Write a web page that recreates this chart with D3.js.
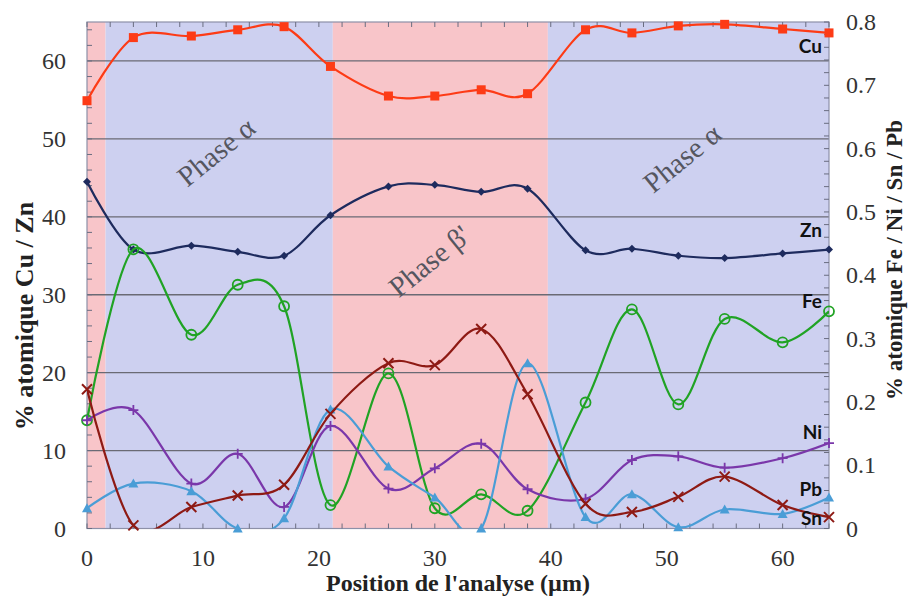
<!DOCTYPE html>
<html>
<head>
<meta charset="utf-8">
<script src="https://cdn.jsdelivr.net/npm/d3@7"></script>
<style>
  html, body { margin: 0; padding: 0; background: #ffffff; }
  svg { display: block; }
  .serif { font-family: "Liberation Serif", "Times New Roman", Times, serif; }
  .sans { font-family: Lato, "Liberation Sans", Arial, sans-serif; }
</style>
</head>
<body>
<svg id="chart" width="909" height="598"></svg>
<script>
// ---------------- DATA ----------------
const positions = [0, 4, 9, 13, 17, 21, 26, 30, 34, 38, 43, 47, 51, 55, 60, 64];

// left axis (% atomique Cu / Zn)
const cuValues = [54.9, 63.0, 63.2, 64.0, 64.4, 59.3, 55.5, 55.5, 56.3, 55.8, 64.0, 63.6, 64.5, 64.7, 64.1, 63.6];
const znValues = [44.5, 35.8, 36.3, 35.5, 35.0, 40.2, 43.9, 44.1, 43.2, 43.6, 35.7, 35.9, 35.0, 34.7, 35.3, 35.8];

// right axis (% atomique Fe / Ni / Sn / Pb)
const feValues = [0.171, 0.441, 0.306, 0.385, 0.351, 0.037, 0.245, 0.032, 0.054, 0.028, 0.199, 0.346, 0.196, 0.331, 0.294, 0.343];
const niValues = [0.171, 0.187, 0.071, 0.118, 0.034, 0.162, 0.063, 0.095, 0.134, 0.062, 0.047, 0.108, 0.114, 0.096, 0.111, 0.135];
const pbValues = [0.032, 0.071, 0.059, 0.000, 0.016, 0.188, 0.098, 0.049, 0.000, 0.261, 0.018, 0.054, 0.002, 0.030, 0.023, 0.049];
const snValues = [0.220, 0.005, 0.034, 0.052, 0.069, 0.181, 0.261, 0.258, 0.315, 0.212, 0.039, 0.026, 0.050, 0.082, 0.037, 0.018];

// phase bands [start, end, phase]
const bandStarts = [0, 1.6, 21.2, 39.75];
const bandEnds   = [1.6, 21.2, 39.75, 64];
const bandPhases = ["beta", "alpha", "beta", "alpha"];

// phase annotations
const phaseLabels = ["Phase α", "Phase β'", "Phase α"];
const phaseLabelX = [11.3, 29.7, 51.5];
const phaseLabelY = [48.0, 34.0, 47.2];

const xTicks = [0, 10, 20, 30, 40, 50, 60];
const yLeftTicks = [0, 10, 20, 30, 40, 50, 60];
const yRightTicks = [0, 0.1, 0.2, 0.3, 0.4, 0.5, 0.6, 0.7, 0.8];

const seriesNames = ["Cu", "Zn", "Fe", "Ni", "Pb", "Sn"];
const labelY = [48, 232, 303, 434, 491, 520];

// ---------------- LAYOUT ----------------
const svg = d3.select("#chart");
const M = { left: 87, right: 829, top: 22, bottom: 528.5 };

const x = d3.scaleLinear().domain([0, 64]).range([M.left, M.right]);
const yL = d3.scaleLinear().domain([0, 65]).range([M.bottom, M.top]);
const yR = d3.scaleLinear().domain([0, 0.8]).range([M.bottom, M.top]);

const bandColor = { alpha: "#cdd0f0", beta: "#f8c5c9" };

// bands
svg.append("g").selectAll("rect").data(bandStarts).join("rect")
  .attr("x", (d, i) => x(d))
  .attr("y", M.top)
  .attr("width", (d, i) => x(bandEnds[i]) - x(d))
  .attr("height", M.bottom - M.top)
  .attr("fill", (d, i) => bandColor[bandPhases[i]]);

// gridlines
svg.append("g").selectAll("line").data(yLeftTicks.filter(v => v > 0)).join("line")
  .attr("x1", M.left).attr("x2", M.right)
  .attr("y1", d => yL(d)).attr("y2", d => yL(d))
  .attr("stroke", "#6a6a74").attr("stroke-width", 1.3);

// phase labels
svg.append("g").selectAll("text").data(phaseLabels).join("text")
  .attr("class", "serif")
  .attr("transform", (d, i) => `translate(${x(phaseLabelX[i])},${yL(phaseLabelY[i])}) rotate(-39)`)
  .attr("text-anchor", "middle")
  .attr("dominant-baseline", "middle")
  .attr("font-size", 29)
  .attr("fill", "#55565f")
  .text(d => d);

// frame
svg.append("rect")
  .attr("x", M.left).attr("y", M.top)
  .attr("width", M.right - M.left).attr("height", M.bottom - M.top)
  .attr("fill", "none").attr("stroke", "#8d90a8").attr("stroke-width", 1.2);

// minor ticks (inward)
const tickColor = "#6a6d80";
const xMinor = d3.range(0, 64.01, 2);
const tickG = svg.append("g").attr("stroke", tickColor).attr("stroke-width", 1);
tickG.selectAll("line.b").data(xMinor).join("line").attr("class", "b")
  .attr("x1", d => x(d)).attr("x2", d => x(d))
  .attr("y1", M.bottom).attr("y2", M.bottom - 5);
tickG.selectAll("line.t").data(xMinor).join("line").attr("class", "t")
  .attr("x1", d => x(d)).attr("x2", d => x(d))
  .attr("y1", M.top).attr("y2", M.top + 5);
const yMinorL = d3.range(0, 65.01, 2);
tickG.selectAll("line.l").data(yMinorL).join("line").attr("class", "l")
  .attr("x1", M.left).attr("x2", M.left + 5)
  .attr("y1", d => yL(d)).attr("y2", d => yL(d));
const yMinorR = d3.range(0, 0.8001, 0.02);
tickG.selectAll("line.r").data(yMinorR).join("line").attr("class", "r")
  .attr("x1", M.right).attr("x2", M.right - 5)
  .attr("y1", d => yR(d)).attr("y2", d => yR(d));

// tick labels
svg.append("g").selectAll("text").data(xTicks).join("text")
  .attr("class", "serif")
  .attr("x", d => x(d)).attr("y", 566)
  .attr("text-anchor", "middle")
  .attr("font-size", 24).attr("fill", "#333")
  .text(d => d);
svg.append("g").selectAll("text").data(yLeftTicks).join("text")
  .attr("class", "serif")
  .attr("x", 66).attr("y", d => yL(d) + 8)
  .attr("text-anchor", "end")
  .attr("font-size", 24).attr("fill", "#333")
  .text(d => d);
svg.append("g").selectAll("text").data(yRightTicks).join("text")
  .attr("class", "serif")
  .attr("x", 846).attr("y", d => yR(d) + 8)
  .attr("text-anchor", "start")
  .attr("font-size", 24).attr("fill", "#333")
  .text(d => d === 0 ? "0" : d3.format(".1f")(d));

// axis titles
svg.append("text")
  .attr("class", "serif")
  .attr("x", 458).attr("y", 591)
  .attr("text-anchor", "middle")
  .attr("font-weight", "bold").attr("font-size", 24).attr("fill", "#222")
  .text("Position de l'analyse (µm)");
svg.append("text")
  .attr("class", "serif")
  .attr("transform", "translate(33,316) rotate(-90)")
  .attr("text-anchor", "middle")
  .attr("font-weight", "bold").attr("font-size", 26).attr("fill", "#222")
  .text("% atomique Cu / Zn");
svg.append("text")
  .attr("class", "serif")
  .attr("transform", "translate(902,260) rotate(-90)")
  .attr("text-anchor", "middle")
  .attr("font-weight", "bold").attr("font-size", 23).attr("fill", "#222")
  .text("% atomique Fe / Ni / Sn / Pb");

// clip
svg.append("clipPath").attr("id", "plotclip").append("rect")
  .attr("x", M.left).attr("y", M.top)
  .attr("width", M.right - M.left).attr("height", M.bottom - M.top);

const curve = d3.curveCardinal.tension(0);

function drawSeries(values, yScale, color, marker) {
  const pts = positions.map((p, i) => [p, values[i]]);
  const line = d3.line().x(d => x(d[0])).y(d => yScale(d[1])).curve(curve);
  svg.append("path")
    .attr("d", line(pts))
    .attr("fill", "none")
    .attr("stroke", color)
    .attr("stroke-width", 2.2)
    .attr("clip-path", "url(#plotclip)");
  const g = svg.append("g");
  pts.forEach(d => {
    const cx = x(d[0]), cy = yScale(d[1]);
    if (marker === "square") {
      g.append("rect").attr("x", cx - 4.5).attr("y", cy - 4.5).attr("width", 9).attr("height", 9).attr("fill", color);
    } else if (marker === "diamond") {
      g.append("path").attr("d", `M${cx},${cy - 4}L${cx + 4},${cy}L${cx},${cy + 4}L${cx - 4},${cy}Z`).attr("fill", color);
    } else if (marker === "circle") {
      g.append("circle").attr("cx", cx).attr("cy", cy).attr("r", 5).attr("fill", "none").attr("stroke", color).attr("stroke-width", 1.8);
    } else if (marker === "plus") {
      g.append("path").attr("d", `M${cx},${cy - 5}V${cy + 5}M${cx - 5},${cy}H${cx + 5}`).attr("stroke", color).attr("stroke-width", 1.8);
    } else if (marker === "triangle") {
      g.append("path").attr("d", `M${cx},${cy - 5}L${cx + 5},${cy + 4}L${cx - 5},${cy + 4}Z`).attr("fill", color);
    } else if (marker === "cross") {
      g.append("path").attr("d", `M${cx - 5},${cy - 5}L${cx + 5},${cy + 5}M${cx - 5},${cy + 5}L${cx + 5},${cy - 5}`).attr("stroke", color).attr("stroke-width", 2);
    }
  });
}

drawSeries(cuValues, yL, "#fd3b16", "square");
drawSeries(znValues, yL, "#1e2b5e", "diamond");
drawSeries(feValues, yR, "#20a324", "circle");
drawSeries(niValues, yR, "#7a37aa", "plus");
drawSeries(pbValues, yR, "#4a9dd6", "triangle");
drawSeries(snValues, yR, "#8e1a14", "cross");

// series labels
svg.append("g").selectAll("text").data(seriesNames).join("text")
  .attr("class", "sans")
  .attr("x", 822).attr("y", (d, i) => labelY[i])
  .attr("text-anchor", "end")
  .attr("dominant-baseline", "middle")
  .attr("font-weight", "bold").attr("font-size", 19).attr("fill", "#111")
  .text(d => d);
</script>
</body>
</html>
